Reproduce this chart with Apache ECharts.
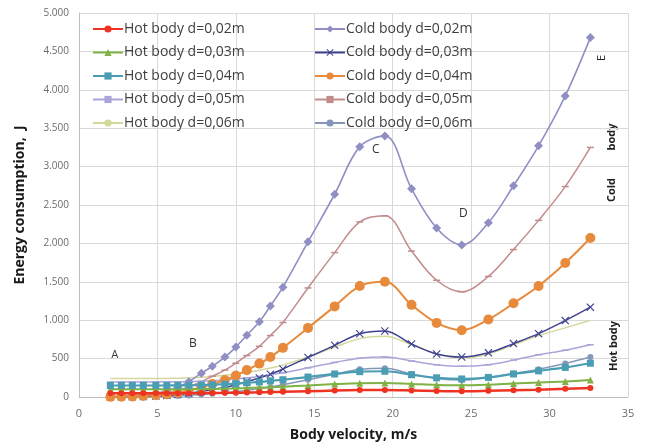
<!DOCTYPE html>
<html>
<head>
<meta charset="utf-8">
<script src="https://cdn.jsdelivr.net/npm/echarts@6/dist/echarts.min.js"></script>
<style>
html,body{margin:0;padding:0;background:#fff;}
#chart{width:647px;height:442px;}
</style>
</head>
<body>
<div id="chart"></div>
<script>
var velocity = [2.0, 2.7, 3.4, 4.1, 4.9, 5.6, 6.3, 7.0, 7.8, 8.5, 9.3, 10.0, 10.7, 11.5, 12.2, 13.0, 14.6, 16.3, 17.9, 19.5, 21.2, 22.8, 24.4, 26.1, 27.7, 29.3, 31.0, 32.6];

var hot002 = [50, 50, 50, 50, 50, 50, 50, 50, 51, 52, 54, 56, 58, 61, 64, 67, 75, 84, 90, 92, 86, 78, 74, 80, 88, 96, 106, 118];
var hot003 = [100, 100, 100, 100, 100, 100, 100, 100, 102, 105, 108, 112, 116, 122, 128, 135, 150, 168, 180, 182, 170, 158, 152, 160, 175, 188, 203, 220];
var hot004 = [150, 150, 150, 150, 150, 150, 151, 152, 155, 160, 167, 175, 185, 196, 210, 225, 260, 300, 330, 335, 290, 250, 235, 255, 300, 340, 385, 440];
var hot005 = [195, 195, 196, 196, 197, 198, 199, 200, 205, 212, 222, 235, 250, 268, 290, 315, 380, 450, 505, 520, 470, 420, 400, 420, 480, 550, 610, 680];
var hot006 = [240, 240, 240, 240, 240, 242, 245, 250, 258, 268, 282, 300, 322, 348, 378, 415, 520, 650, 760, 790, 680, 560, 510, 560, 680, 800, 900, 1000];

var cold002 = [5, 10, 18, 30, 50, 80, 130, 200, 310, 400, 520, 650, 805, 980, 1185, 1430, 2020, 2640, 3260, 3400, 2710, 2200, 1980, 2270, 2750, 3270, 3920, 4680];
var cold003 = [1, 2, 4, 7, 12, 20, 31, 48, 71, 97, 125, 160, 200, 248, 296, 365, 515, 673, 824, 860, 690, 560, 520, 575, 695, 825, 995, 1170];
var cold004 = [2, 4, 8, 13, 22, 35, 55, 85, 125, 170, 220, 280, 350, 435, 520, 640, 900, 1180, 1445, 1500, 1200, 965, 870, 1010, 1220, 1445, 1745, 2070];
var cold005 = [3, 6, 12, 20, 35, 55, 85, 130, 200, 270, 350, 440, 540, 660, 800, 970, 1420, 1880, 2280, 2360, 1900, 1520, 1370, 1570, 1920, 2300, 2740, 3250];
var cold006 = [1, 1, 2, 3, 5, 9, 14, 21, 31, 43, 55, 70, 88, 109, 130, 160, 225, 295, 360, 375, 300, 241, 220, 255, 305, 362, 436, 520];

var yTicks = ['0', '500', '1.000', '1.500', '2.000', '2.500', '3.000', '3.500', '4.000', '4.500', '5.000'];

var hotNames = ['Hot body d=0,02m', 'Hot body d=0,03m', 'Hot body d=0,04m', 'Hot body d=0,05m', 'Hot body d=0,06m'];
var coldNames = ['Cold body d=0,02m', 'Cold body d=0,03m', 'Cold body d=0,04m', 'Cold body d=0,05m', 'Cold body d=0,06m'];

function pairs(ys) { return velocity.map(function (v, i) { return [v, ys[i]]; }); }

var xMark = 'path://M0,1L1,0L5,4L9,0L10,1L6,5L10,9L9,10L5,6L1,10L0,9L4,5Z';

function mk(name, ys, color, width, symbol, size, z) {
  return {
    name: name, type: 'line', data: pairs(ys), smooth: 0.35,
    lineStyle: { color: color, width: width },
    itemStyle: { color: color, borderWidth: 0 },
    symbol: symbol, symbolSize: size, showSymbol: symbol !== 'none',
    z: z || 2, animation: false
  };
}

var series = [
  mk(hotNames[0], hot002, '#ee3322', 2.5, 'circle', 6, 6),
  mk(hotNames[1], hot003, '#7fb144', 2, 'triangle', 7, 5),
  mk(hotNames[2], hot004, '#4a9db3', 2.2, 'rect', 7, 5),
  mk(hotNames[3], hot005, '#a8a6d8', 1.5, 'rect', [7, 1.5], 4),
  mk(hotNames[4], hot006, '#d3d89a', 1.5, 'none', 0, 3),
  mk(coldNames[0], cold002, '#8f8fc4', 1.6, 'diamond', 9, 4),
  mk(coldNames[1], cold003, '#3f4290', 1.5, xMark, 8, 4),
  mk(coldNames[2], cold004, '#e88a3c', 2, 'circle', 10, 4),
  mk(coldNames[3], cold005, '#c28c8c', 1.5, 'rect', [7, 1.5], 3),
  mk(coldNames[4], cold006, '#8597b8', 1.5, 'circle', 6, 3)
];

var chart = echarts.init(document.getElementById('chart'), null, { renderer: 'canvas' });
var fontFam = '"Open Sans", "Noto Sans", sans-serif';
chart.setOption({
  animation: false,
  backgroundColor: '#ffffff',
  grid: { left: 79, right: 19, top: 13, bottom: 45, containLabel: false, outerBoundsMode: 'none' },
  xAxis: {
    type: 'value', min: 0, max: 35, interval: 5,
    name: 'Body velocity, m/s', nameLocation: 'middle', nameGap: 31,
    nameTextStyle: { fontFamily: fontFam, fontWeight: 'bold', fontSize: 14, color: '#1a1a1a' },
    axisLine: { lineStyle: { color: '#bfbfbf' } },
    axisTick: { show: false },
    axisLabel: { color: '#6b6b6b', fontFamily: fontFam, fontSize: 11, margin: 11 },
    splitLine: { show: true, lineStyle: { color: '#d9d9d9', width: 1 } }
  },
  yAxis: {
    type: 'value', min: 0, max: 5000, interval: 500,
    name: 'Energy consumption,  J', nameLocation: 'middle', nameGap: 52, nameRotate: 90,
    nameTextStyle: { fontFamily: fontFam, fontWeight: 'bold', fontSize: 14, color: '#1a1a1a' },
    axisLine: { show: true, lineStyle: { color: '#bfbfbf' } },
    axisTick: { show: false },
    axisLabel: { color: '#6b6b6b', fontFamily: fontFam, fontSize: 10, margin: 10,
      formatter: function (v) { return yTicks[Math.round(v / 500)]; } },
    splitLine: { show: true, lineStyle: { color: '#d9d9d9', width: 1 } }
  },
  legend: [
    { data: hotNames, orient: 'vertical', left: 87, top: 17, itemWidth: 30, itemHeight: 9, itemGap: 9.5,
      textStyle: { fontFamily: fontFam, fontSize: 14, color: '#404040', padding: [0, 0, 0, -4] } },
    { data: coldNames, orient: 'vertical', left: 309, top: 17, itemWidth: 30, itemHeight: 9, itemGap: 9.5,
      textStyle: { fontFamily: fontFam, fontSize: 14, color: '#404040', padding: [0, 0, 0, -4] } }
  ],
  graphic: [
    { type: 'text', left: 111, top: 350, style: { text: 'A', font: '12px "Open Sans", sans-serif', fill: '#333' } },
    { type: 'text', left: 189, top: 338, style: { text: 'B', font: '12px "Open Sans", sans-serif', fill: '#333' } },
    { type: 'text', left: 372, top: 144, style: { text: 'C', font: '12px "Open Sans", sans-serif', fill: '#333' } },
    { type: 'text', left: 459, top: 208, style: { text: 'D', font: '12px "Open Sans", sans-serif', fill: '#333' } },
    { type: 'text', x: 602, y: 58, rotation: Math.PI / 2, style: { text: 'E', font: '11px "Open Sans", sans-serif', fill: '#222', align: 'center', verticalAlign: 'middle' } },
    { type: 'text', x: 612, y: 137, rotation: Math.PI / 2, style: { text: 'body', font: 'bold 11px "Open Sans", sans-serif', fill: '#222', align: 'center', verticalAlign: 'middle' } },
    { type: 'text', x: 612, y: 190, rotation: Math.PI / 2, style: { text: 'Cold', font: 'bold 11px "Open Sans", sans-serif', fill: '#222', align: 'center', verticalAlign: 'middle' } },
    { type: 'text', x: 614, y: 346, rotation: Math.PI / 2, style: { text: 'Hot body', font: 'bold 11px "Open Sans", sans-serif', fill: '#222', align: 'center', verticalAlign: 'middle' } }
  ],
  series: series
});
</script>
</body>
</html>
